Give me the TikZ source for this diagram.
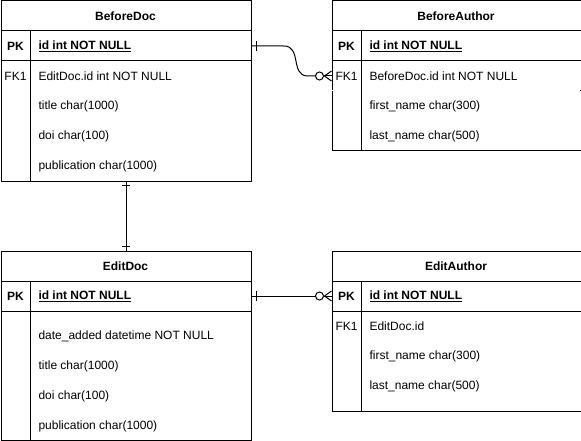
\documentclass[tikz,border=0pt]{standalone}
\usepackage{fontspec}
\setmainfont{Liberation Sans}
\usetikzlibrary{calc}
\begin{document}
\begin{tikzpicture}[x=1pt,y=-1pt,line width=1pt,
  cell/.style={draw,rectangle,anchor=north west,inner sep=0pt},
  txt/.style={anchor=west,inner sep=0pt,font=\fontsize{12}{14}\selectfont},
  hdr/.style={inner sep=0pt,font=\fontsize{12}{14}\selectfont\bfseries},
  keylab/.style={inner sep=0pt,font=\fontsize{12}{14}\selectfont},
  pklab/.style={inner sep=0pt,font=\fontsize{12}{14}\selectfont\bfseries},
  pktxt/.style={anchor=west,inner sep=0pt,font=\fontsize{12}{14}\selectfont\bfseries},
  link/.style={line width=1pt}
]
\useasboundingbox (0,0) rectangle (581,441);
% ---------- BeforeDoc ----------
\node[cell,minimum width=250pt,minimum height=30pt] (bd-h) at (0.5,0.5) {};
\node[cell,minimum width=250pt,minimum height=30pt] (bd-pk) at (0.5,30.5) {};
\node[cell,minimum width=250pt,minimum height=120pt] (bd-b) at (0.5,60.5) {};
\draw (30.5,30.5) -- (30.5,180.5);
\node[hdr] (bd-t) at (125.5,16) {BeforeDoc};
\node[pklab] (bd-k1) at (15.5,46) {PK};
\node[pktxt] (bd-r1) at (38,46) {\underline{id int NOT NULL}};
\node[keylab] (bd-k2) at (15.5,76) {FK1};
\node[txt] (bd-r2) at (38,76) {EditDoc.id int NOT NULL};
\node[txt] (bd-r3) at (38,106) {title char(1000)};
\node[txt] (bd-r4) at (38,136) {doi char(100)};
\node[txt] (bd-r5) at (38,166) {publication char(1000)};
% ---------- BeforeAuthor ----------
\node[cell,minimum width=249pt,minimum height=30pt] (ba-h) at (331.5,0.5) {};
\node[cell,minimum width=249pt,minimum height=30pt] (ba-pk) at (331.5,30.5) {};
\node[cell,minimum width=249pt,minimum height=30pt] (ba-fk) at (331.5,60.5) {};
\node[cell,minimum width=249pt,minimum height=60pt] (ba-b) at (331.5,90.5) {};
\draw[draw=white,line width=1.2pt] (332.2,90.5) -- (579.8,90.5);
\draw (361.5,30.5) -- (361.5,150.5);
\node[hdr] (ba-t) at (456,16) {BeforeAuthor};
\node[pklab] (ba-k1) at (346.5,46) {PK};
\node[pktxt] (ba-r1) at (369,46) {\underline{id int NOT NULL}};
\node[keylab] (ba-k2) at (346.5,76) {FK1};
\node[txt] (ba-r2) at (369,76) {BeforeDoc.id int NOT NULL};
\node[txt] (ba-r3) at (369,106) {first\_name char(300)};
\node[txt] (ba-r4) at (369,136) {last\_name char(500)};
% ---------- EditDoc ----------
\node[cell,minimum width=250pt,minimum height=30pt] (ed-h) at (0.5,250.5) {};
\node[cell,minimum width=250pt,minimum height=30pt] (ed-pk) at (0.5,280.5) {};
\node[cell,minimum width=250pt,minimum height=129.5pt] (ed-b) at (0.5,310.5) {};
\draw (30.5,280.5) -- (30.5,440);
\node[hdr] (ed-t) at (125.5,266) {EditDoc};
\node[pklab] (ed-k1) at (15.5,296) {PK};
\node[pktxt] (ed-r1) at (38,296) {\underline{id int NOT NULL}};
\node[txt] (ed-r2) at (38,336) {date\_added datetime NOT NULL};
\node[txt] (ed-r3) at (38,366) {title char(1000)};
\node[txt] (ed-r4) at (38,396) {doi char(100)};
\node[txt] (ed-r5) at (38,426) {publication char(1000)};
% ---------- EditAuthor ----------
\node[cell,minimum width=249pt,minimum height=30pt] (ea-h) at (331.5,250.5) {};
\node[cell,minimum width=249pt,minimum height=30pt] (ea-pk) at (331.5,280.5) {};
\node[cell,minimum width=249pt,minimum height=100pt] (ea-b) at (331.5,310.5) {};
\draw (361.5,280.5) -- (361.5,410.5);
\node[hdr] (ea-t) at (456,266) {EditAuthor};
\node[pklab] (ea-k1) at (346.5,296) {PK};
\node[pktxt] (ea-r1) at (369,296) {\underline{id int NOT NULL}};
\node[keylab] (ea-k2) at (346.5,326) {FK1};
\node[txt] (ea-r2) at (369,326) {EditDoc.id};
\node[txt] (ea-r3) at (369,356) {first\_name char(300)};
\node[txt] (ea-r4) at (369,386) {last\_name char(500)};
% ---------- connectors ----------
% BeforeDoc.id -> BeforeAuthor.FK1
\draw[link] (bd-pk.east) -- ++(32,0) .. controls (302,45.5) and (290,75.5) .. ($(ba-fk.west)+(-24,0)$) -- ($(ba-fk.west)+(-16,0)$);
\draw[link] ($(bd-pk.east)+(5,-5)$) -- ($(bd-pk.east)+(5,5)$);
\draw[link] ($(ba-fk.west)+(-12,0)$) circle (4);
\draw[link] ($(ba-fk.west)+(-8,0)$) -- (ba-fk.west);
\draw[link] ($(ba-fk.west)+(-7,0)$) -- ($(ba-fk.west)+(0,-5)$);
\draw[link] ($(ba-fk.west)+(-7,0)$) -- ($(ba-fk.west)+(0,5)$);
% BeforeDoc -- EditDoc
\draw[link] (bd-b.south) -- (ed-h.north);
\draw[link] ($(bd-b.south)+(-4,4)$) -- ($(bd-b.south)+(4,4)$);
\draw[link] ($(ed-h.north)+(-4,-4)$) -- ($(ed-h.north)+(4,-4)$);
% EditDoc.id -> EditAuthor.id
\draw[link] (ed-pk.east) -- ($(ea-pk.west)+(-16,0)$);
\draw[link] ($(ed-pk.east)+(5,-5)$) -- ($(ed-pk.east)+(5,5)$);
\draw[link] ($(ea-pk.west)+(-12,0)$) circle (4);
\draw[link] ($(ea-pk.west)+(-8,0)$) -- (ea-pk.west);
\draw[link] ($(ea-pk.west)+(-7,0)$) -- ($(ea-pk.west)+(0,-5)$);
\draw[link] ($(ea-pk.west)+(-7,0)$) -- ($(ea-pk.west)+(0,5)$);
\end{tikzpicture}
\end{document}
